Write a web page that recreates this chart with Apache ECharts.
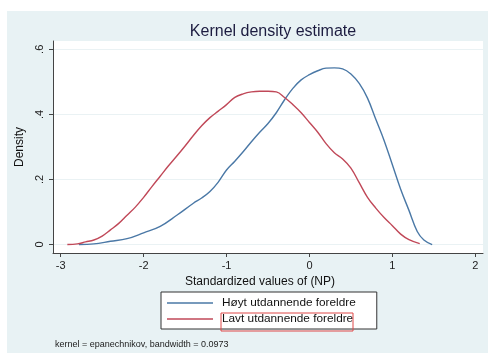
<!DOCTYPE html>
<html>
<head>
<meta charset="utf-8">
<script src="https://cdn.jsdelivr.net/npm/echarts@6/dist/echarts.min.js"></script>
<style>
  html, body { margin: 0; padding: 0; background: #fff; }
  #chart { width: 488px; height: 353px; }
</style>
</head>
<body>
<div id="chart"></div>
<script>
// Høyt utdannende foreldre (blue)
var hoytX = [-2.78, -2.6, -2.4, -2.2, -2.0, -1.8, -1.6, -1.4, -1.3, -1.2, -1.1, -1.0, -0.9, -0.8, -0.7, -0.6, -0.5, -0.4, -0.3, -0.2, -0.1, 0.0, 0.1, 0.2, 0.3, 0.4, 0.5, 0.6, 0.7, 0.8, 0.9, 1.0, 1.1, 1.2, 1.3, 1.38, 1.48];
var hoytY = [0, 0.002, 0.010, 0.018, 0.036, 0.056, 0.090, 0.127, 0.143, 0.163, 0.192, 0.229, 0.256, 0.285, 0.316, 0.345, 0.372, 0.405, 0.445, 0.480, 0.506, 0.522, 0.534, 0.542, 0.543, 0.540, 0.524, 0.495, 0.450, 0.385, 0.320, 0.245, 0.170, 0.105, 0.040, 0.014, 0];
// Lavt utdannende foreldre (red)
var lavtX = [-2.92, -2.8, -2.7, -2.6, -2.5, -2.4, -2.3, -2.2, -2.1, -2.0, -1.9, -1.8, -1.7, -1.6, -1.5, -1.4, -1.3, -1.2, -1.1, -1.0, -0.9, -0.8, -0.7, -0.6, -0.5, -0.4, -0.3, -0.2, -0.1, 0.0, 0.1, 0.2, 0.3, 0.4, 0.5, 0.6, 0.7, 0.8, 0.9, 1.0, 1.1, 1.2, 1.33];
var lavtY = [0, 0.002, 0.008, 0.014, 0.026, 0.045, 0.065, 0.090, 0.115, 0.145, 0.178, 0.210, 0.242, 0.272, 0.303, 0.335, 0.365, 0.390, 0.410, 0.430, 0.452, 0.463, 0.469, 0.471, 0.471, 0.469, 0.452, 0.430, 0.405, 0.375, 0.345, 0.310, 0.282, 0.263, 0.235, 0.190, 0.145, 0.112, 0.083, 0.058, 0.032, 0.015, 0.003];

var xTicks = [-3, -2, -1, 0, 1, 2];
var yTicks = [0, 0.2, 0.4, 0.6];
var seriesNames = ['Høyt utdannende foreldre', 'Lavt utdannende foreldre'];

function pairs(xs, ys){
  var out = [];
  for(var i=0; i<xs.length; i++){
    out.push([xs[i], ys[i]]);
  }
  return out;
}

var font = '"Liberation Sans", Arial, sans-serif';
var chart = echarts.init(document.getElementById('chart'));

var option = {
  backgroundColor: '#fff',
  animation: false,
  textStyle: { fontFamily: font },
  title: {
    text: 'Kernel density estimate',
    left: 268,
    textAlign: 'center',
    top: 19,
    textStyle: { fontFamily: font, fontSize: 16, fontWeight: 'normal', color: '#1c1c40' }
  },
  graphic: [
    {
      type: 'rect', z: -100, silent: true,
      shape: { x: 7, y: 11, width: 481, height: 342 },
      style: { fill: '#e8f2f4' }
    },
    {
      type: 'text', left: 55, top: 340,
      style: { text: 'kernel = epanechnikov, bandwidth = 0.0973', fontFamily: font, fontSize: 9, fill: '#222' }
    },
    {
      type: 'rect', z: 100, silent: true,
      shape: { x: 221, y: 313, width: 132, height: 18 },
      style: { fill: 'none', stroke: '#e04848', lineWidth: 1 }
    }
  ],
  grid: {
    left: 53, right: 5, top: 41, bottom: 100,
    show: true, backgroundColor: '#fff', borderWidth: 0
  },
  legend: {
    data: seriesNames,
    orient: 'vertical',
    left: 161, top: 292,
    padding: [5, 21, 4, 6],
    icon: 'path://M0,0 H46 V1.4 H0 Z',
    itemWidth: 46, itemHeight: 14, itemGap: 4,
    backgroundColor: '#fff',
    borderColor: '#333', borderWidth: 1,
    textStyle: { fontFamily: font, fontSize: 11.8, color: '#111', padding: [0, 0, 0, 4] }
  },
  xAxis: {
    type: 'value',
    min: -3.093, max: 2.093,
    name: 'Standardized values of (NP)',
    nameLocation: 'middle',
    nameGap: 22,
    nameTextStyle: { fontFamily: font, fontSize: 12, color: '#111', padding: [0, 16, 0, 0] },
    axisLine: { show: true, onZero: false, lineStyle: { color: '#444', width: 1 } },
    axisTick: { show: true, length: 4, customValues: xTicks, lineStyle: { color: '#444' } },
    axisLabel: { customValues: xTicks, margin: 7, fontSize: 11, color: '#222', fontFamily: font },
    splitLine: { show: false }
  },
  yAxis: {
    type: 'value',
    min: -0.026, max: 0.6255,
    name: 'Density',
    nameLocation: 'middle',
    nameGap: 22,
    nameTextStyle: { fontFamily: font, fontSize: 12, color: '#111' },
    axisLine: { show: true, onZero: false, lineStyle: { color: '#444', width: 1 } },
    axisTick: { show: true, length: 4, customValues: yTicks, lineStyle: { color: '#444' } },
    axisLabel: {
      customValues: yTicks, rotate: 90, margin: 8, fontSize: 11, color: '#222', fontFamily: font,
      formatter: function(v){ return v === 0 ? '0' : String(+v.toFixed(1)).replace('0.', '.'); }
    },
    splitLine: { show: true, lineStyle: { color: '#eaf2f4', width: 1 } }
  },
  series: [
    {
      name: seriesNames[0], type: 'line', symbol: 'none', smooth: 0.4,
      lineStyle: { color: '#4a78a6', width: 1.4 },
      itemStyle: { color: '#4a78a6' },
      data: pairs(hoytX, hoytY)
    },
    {
      name: seriesNames[1], type: 'line', symbol: 'none', smooth: 0.4,
      lineStyle: { color: '#c04858', width: 1.4 },
      itemStyle: { color: '#c04858' },
      data: pairs(lavtX, lavtY)
    }
  ]
};
chart.setOption(option);
</script>
</body>
</html>
